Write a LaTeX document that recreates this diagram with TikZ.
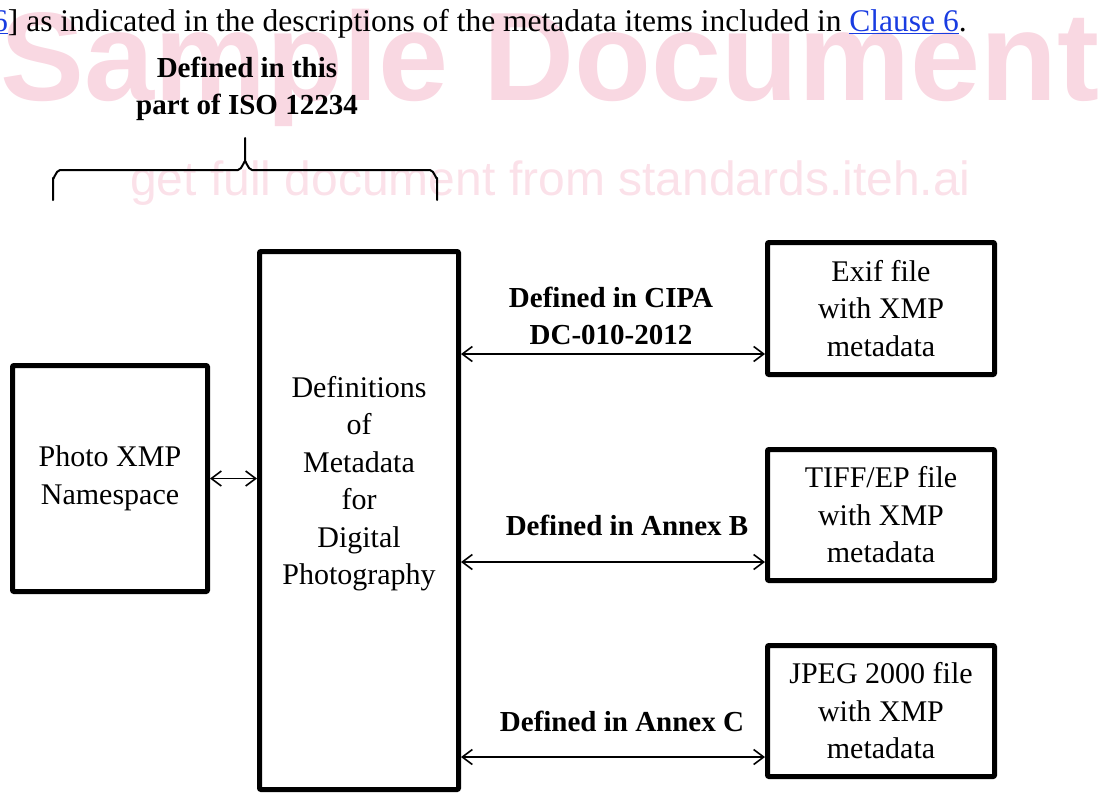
\documentclass[tikz,border=0pt]{standalone}
\usepackage{fontspec}
\setmainfont{Liberation Serif}
\newfontfamily\wmfont{Liberation Sans}
\usetikzlibrary{arrows.meta}
\definecolor{wmpink}{RGB}{249,216,226}
\definecolor{wmpinklight}{RGB}{251,225,233}
\definecolor{refblue}{RGB}{25,60,225}
\begin{document}
\begin{tikzpicture}[x=1pt,y=-1pt,line cap=round,line join=round,
  >={Straight Barb[length=10pt,width=15pt,line width=1.6pt]},
  box/.style={draw,line width=5pt,rounded corners=1pt,inner sep=0pt,align=center,
    minimum width=227pt,minimum height=132pt,font=\fontsize{30}{37.5}\selectfont},
  boxtext/.style={inner sep=0pt,align=center,font=\fontsize{30}{37.5}\selectfont},
  lbl/.style={inner sep=0pt,align=center,font=\bfseries\fontsize{29}{37.5}\selectfont},
  link/.style={<->,line width=1.6pt}]
  \useasboundingbox (0,0) rectangle (1113,798);
  \node[anchor=base west,inner sep=0pt,text=wmpink,font=\wmfont\bfseries\fontsize{126}{126}\selectfont] (wmtop) at (0,100) {Sample Document};
  \node[anchor=base west,inner sep=0pt,text=wmpinklight,font=\wmfont\fontsize{48}{48}\selectfont] (wmsub) at (130,195) {get full document from standards.iteh.ai};
  \node[anchor=base west,inner sep=0pt,font=\fontsize{31.5}{36}\selectfont] (intro) at (-8,31)
    {\textcolor{refblue}{\underline{6}}] as indicated in the descriptions of the metadata items included in \textcolor{refblue}{\underline{Clause 6}}.};
  \node[lbl] (partlbl) at (247,89) {Defined in this\\part of ISO 12234};
  \draw[line width=2pt] (53,200) -- (53,178) to[out=-90,in=180] (60,170) -- (238,170)
    to[out=0,in=90] (245,162) -- (245,138);
  \draw[line width=2pt] (245,162) to[out=90,in=180] (252,170) -- (430,170)
    to[out=0,in=-90] (437,178) -- (437,200);
  \node[box,minimum width=195pt,minimum height=226pt] (photo) at (110,478.5) {Photo XMP\\Namespace};
  \node[box,minimum width=199pt,minimum height=538pt] (defs) at (359,520.5) {};
  \node[boxtext] (defstext) at ([yshift=37pt]defs.center) {Definitions\\of\\Metadata\\for\\Digital\\Photography};
  \node[box] (exif) at (881,308.5) {Exif file\\with XMP\\metadata};
  \node[box,minimum height=131pt] (tiff) at (881,515) {TIFF/EP file\\with XMP\\metadata};
  \node[box,minimum height=131pt] (jpeg) at (881,711) {JPEG 2000 file\\with XMP\\metadata};
  \coordinate (exifin) at ([yshift=-45.5pt]exif.west);
  \coordinate (tiffin) at ([yshift=-47pt]tiff.west);
  \coordinate (jpegin) at ([yshift=-46pt]jpeg.west);
  \draw[link] (photo.east) -- (defs.west |- photo.east);
  \draw[link] (defs.east |- exifin) -- (exifin);
  \draw[link] (defs.east |- tiffin) -- (tiffin);
  \draw[link] (defs.east |- jpegin) -- (jpegin);
  \node[lbl] (cipalbl) at (611,316) {Defined in CIPA\\DC-010-2012};
  \node[lbl] (annexblbl) at (627,525) {Defined in Annex B};
  \node[lbl] (annexclbl) at (622,721) {Defined in Annex C};
\end{tikzpicture}
\end{document}
